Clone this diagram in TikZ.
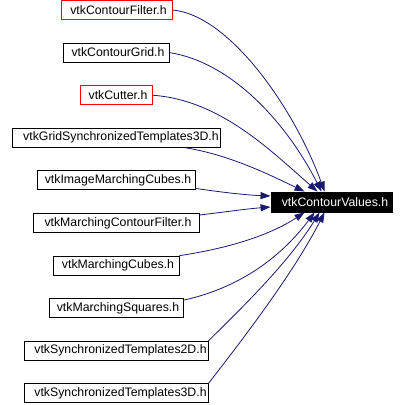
\documentclass[tikz,border=0pt]{standalone}
\usepackage{fontspec}
\setmainfont{Liberation Sans}
\usetikzlibrary{arrows.meta}
\definecolor{edgeblue}{HTML}{191970}
\tikzset{
  box/.style={draw=black, line width=0.9pt, minimum height=19pt, inner sep=0pt,
    font=\fontsize{12.3}{14}\selectfont, anchor=center},
  redbox/.style={box, draw=red},
  target/.style={box, fill=black, text=white, minimum height=20pt},
  dep/.style={draw=edgeblue, line width=0.8pt, -{Triangle[length=10pt,width=7pt,fill=edgeblue]}}
}
\begin{document}
\begin{tikzpicture}[x=1pt,y=-1pt]
\useasboundingbox (0,0) rectangle (405,405);
\node[redbox, minimum width=111pt] (cf)  at (116.5,10)   {\hspace*{4pt}vtkContourFilter.h};
\node[box,    minimum width=106pt] (cg)  at (116,52.6)   {\hspace*{4pt}vtkContourGrid.h};
\node[redbox, minimum width=72pt]  (cut) at (116,95.2)   {\hspace*{4pt}vtkCutter.h};
\node[box,    minimum width=208pt] (gs)  at (116,137.8)  {\hspace*{10pt}vtkGridSynchronizedTemplates3D.h};
\node[box,    minimum width=158pt] (imc) at (116,180.4)  {\hspace*{4pt}vtkImageMarchingCubes.h};
\node[box,    minimum width=166pt] (mcf) at (116,223)    {\hspace*{4pt}vtkMarchingContourFilter.h};
\node[box,    minimum width=126pt] (mc)  at (116,265.6)  {\hspace*{4pt}vtkMarchingCubes.h};
\node[box,    minimum width=134pt] (ms)  at (116,308.2)  {\hspace*{4pt}vtkMarchingSquares.h};
\node[box,    minimum width=184pt] (st2) at (116,350.8)  {\hspace*{9pt}vtkSynchronizedTemplates2D.h};
\node[box,    minimum width=184pt] (st3) at (116,393.4)  {\hspace*{9pt}vtkSynchronizedTemplates3D.h};
\node[target, minimum width=121pt] (tgt) at (331.5,202)  {\hspace*{7pt}vtkContourValues.h};

\draw[dep] (cf.east) .. controls (230,15) and (295,110) .. ([xshift=54pt]tgt.north west);
\draw[dep] (cg.east) .. controls (230,62) and (285,120) .. ([xshift=51pt]tgt.north west);
\draw[dep] (cut.east) .. controls (220,100) and (270,150) .. ([xshift=47pt]tgt.north west);
\draw[dep] ([xshift=-35pt]gs.south east) .. controls (230,155) and (270,175) .. ([xshift=34pt]tgt.north west);
\draw[dep] ([yshift=-8pt]imc.east) .. controls (220,192) and (245,195) .. ([yshift=6pt]tgt.west);
\draw[dep] ([yshift=8pt]mcf.east) .. controls (225,212) and (245,209) .. ([yshift=-5pt]tgt.west);
\draw[dep] (mc.north east) .. controls (230,248) and (270,235) .. ([xshift=34pt]tgt.south west);
\draw[dep] ([yshift=8pt]ms.east) .. controls (230,290) and (275,265) .. ([xshift=44pt]tgt.south west);
\draw[dep] (st2.north east) .. controls (250,300) and (290,260) .. ([xshift=49pt]tgt.south west);
\draw[dep] (st3.north east) .. controls (250,330) and (295,270) .. ([xshift=54pt]tgt.south west);
\end{tikzpicture}
\end{document}
